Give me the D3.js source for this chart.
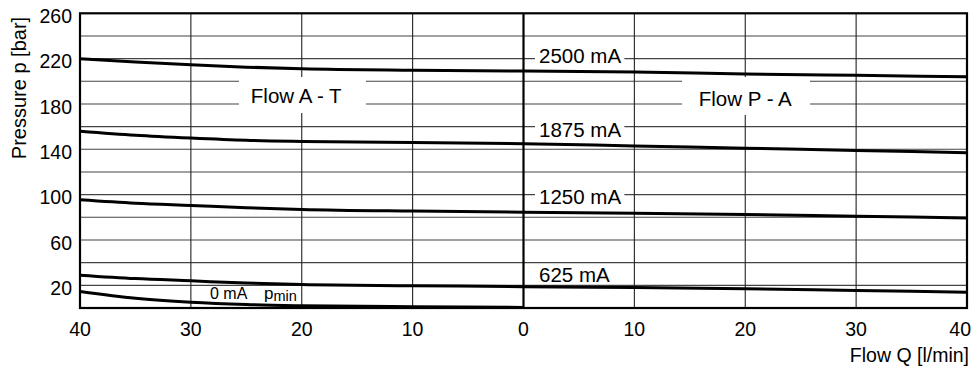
<!DOCTYPE html>
<html><head><meta charset="utf-8">
<script src="https://cdn.jsdelivr.net/npm/d3@7"></script>
<style>
html,body{margin:0;padding:0;background:#fff;}
svg{display:block;font-family:"Liberation Sans",Arial,Helvetica,sans-serif;}
</style></head>
<body><svg id="c" width="976" height="367"></svg>
<script>
// ---- data ----
const flow = [-40,-35,-30,-25,-20,-10,0,10,20,30,40];
const p2500 = [220,217,214.5,212.5,211,209.7,209,208.2,206.5,205.3,204];
const p1875 = [156,152.5,150,148,147,146,145,143,141,139,137];
const p1250 = [95.5,92.5,90.5,88.5,87,85.5,84.5,83.5,82.5,81,79.5];
const p625  = [29,26,24,22,20.7,19.7,18.8,18,17,15.5,14];
const flowMin = [-40,-35,-30,-25,-20,-10,0];
const p0    = [14.5,8.5,5,3,2,1.2,0.5];
const seriesNames = ["2500 mA","1875 mA","1250 mA","625 mA"];
const xTicks = [-40,-30,-20,-10,0,10,20,30,40];
const yGrid = [20,40,60,80,100,120,140,160,180,200,220,240];
const yTickLabels = [20,60,100,140,180,220,260];
const regionLabels = ["Flow A - T","Flow P - A"];
const yTitle = "Pressure p [bar]";
const xTitle = "Flow Q [l/min]";

// ---- layout ----
const L=80, R=967, T=13.3, B=308;
const svg = d3.select("#c");
const x = d3.scaleLinear().domain([-40,40]).range([L,R]);
const y = d3.scaleLinear().domain([0,260]).range([B,T]);

const g = svg.append("g");
// grid
g.selectAll("line.h").data(yGrid).join("line")
  .attr("x1",L).attr("x2",R).attr("y1",d=>y(d)).attr("y2",d=>y(d))
  .attr("stroke","#444").attr("stroke-width",1.1);
g.selectAll("line.v").data(xTicks.filter(d=>d!==0 && Math.abs(d)!==40)).join("line")
  .attr("x1",d=>x(d)).attr("x2",d=>x(d)).attr("y1",T).attr("y2",B)
  .attr("stroke","#222").attr("stroke-width",1.1);

// region label boxes
const regionPos = [{v:-20.5, base:103},{v:20, base:105.5}];
const boxes = g.append("g");
boxes.append("rect").attr("x",239).attr("y",77).attr("width",127).attr("height",36).attr("fill","#fff");
boxes.append("rect").attr("x",682).attr("y",77).attr("width",128).attr("height",38).attr("fill","#fff");

// center line
g.append("line").attr("x1",x(0)).attr("x2",x(0)).attr("y1",T).attr("y2",B)
  .attr("stroke","#000").attr("stroke-width",2.2);

// series labels with white boxes
const labBase = [63,136.5,204,281.5];
const lab = g.append("g");
seriesNames.forEach((s,i)=>{
  const t = lab.append("text").attr("x",539).attr("y",labBase[i])
    .attr("font-size",20.5).attr("fill","#000").text(s);
  const bb = t.node().getBBox();
  if (i<3) {
    lab.insert("rect","text").attr("x",bb.x-4).attr("y",bb.y+3).attr("width",bb.width+7)
      .attr("height",bb.height-6).attr("fill","#fff");
  }
});

regionLabels.forEach((s,i)=>{
  g.append("text").attr("x",x(regionPos[i].v)).attr("y",regionPos[i].base)
    .attr("text-anchor","middle").attr("font-size",20.5).text(s);
});

// curves
const line = d3.line().x(d=>x(d[0])).y(d=>y(d[1])).curve(d3.curveMonotoneX);
[p2500,p1875,p1250,p625].forEach(arr=>{
  g.append("path").attr("d",line(flow.map((f,i)=>[f,arr[i]])))
    .attr("fill","none").attr("stroke","#000").attr("stroke-width",3);
});
g.append("path").attr("d",line(flowMin.map((f,i)=>[f,p0[i]])))
  .attr("fill","none").attr("stroke","#000").attr("stroke-width",3);

// border
g.append("rect").attr("x",L).attr("y",T).attr("width",R-L).attr("height",B-T)
  .attr("fill","none").attr("stroke","#000").attr("stroke-width",2.2);

// 0 mA pmin label
const pm = g.append("text").attr("x",210).attr("y",299).attr("font-size",16);
pm.append("tspan").text("0 mA");
pm.append("tspan").attr("x",264).attr("font-size",17).text("p");
pm.append("tspan").attr("font-size",14.5).attr("dy",2).text("min");

// axes tick labels
g.selectAll("text.yt").data(yTickLabels).join("text")
  .attr("x",72).attr("y",d=>y(d)+3).attr("dy","0.35em")
  .attr("text-anchor","end").attr("font-size",19.5).text(d=>d);
g.selectAll("text.xt").data(xTicks).join("text")
  .attr("x",d=> d===40 ? 971 : x(d)).attr("y",336)
  .attr("text-anchor",d=> d===40 ? "end" : "middle").attr("font-size",19.5).text(d=>Math.abs(d));

// titles
g.append("text").attr("transform","translate(26,88) rotate(-90)")
  .attr("text-anchor","middle").attr("font-size",20).text(yTitle);
g.append("text").attr("x",969).attr("y",362).attr("text-anchor","end")
  .attr("font-size",19.5).text(xTitle);
</script></body></html>
